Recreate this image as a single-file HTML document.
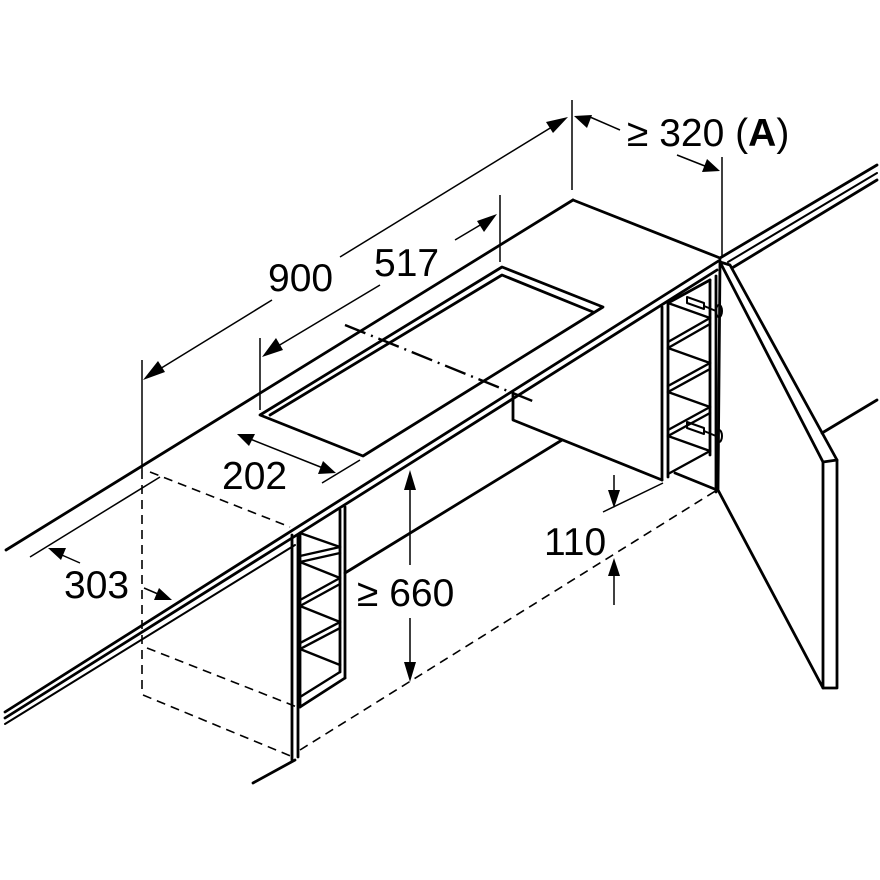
<!DOCTYPE html>
<html><head><meta charset="utf-8"><style>
html,body{margin:0;padding:0;background:#fff}
svg{display:block}
text{font-family:"Liberation Sans",Arial,sans-serif;fill:#000}
</style></head><body>
<svg width="880" height="880" viewBox="0 0 880 880" xmlns="http://www.w3.org/2000/svg">
<g stroke="#000" fill="none" stroke-width="2.8" stroke-linecap="round" stroke-linejoin="round">
<line x1="6" y1="550" x2="573" y2="200"/>
<line x1="573" y1="200" x2="720" y2="258"/>
<line x1="720" y1="260" x2="5" y2="712"/>
<line x1="717" y1="270" x2="292" y2="538"/>
<line x1="292" y1="538" x2="5" y2="718"/>
<line x1="295" y1="545" x2="5" y2="724" stroke-width="2"/>
<polygon points="260,415 502,267 603,307 363,456"/>
<polyline points="270,415 502,275 593,312"/>
<line x1="345" y1="573" x2="562" y2="440"/>
<polyline points="513,393 513,420 662,480"/>
<line x1="662" y1="307" x2="662" y2="480"/>
<line x1="668" y1="303" x2="668" y2="477"/>
<line x1="710" y1="280" x2="710" y2="455"/>
<line x1="716" y1="276" x2="716" y2="492"/>
<polyline points="668,303 710,280"/>
<line x1="675" y1="473" x2="717" y2="490"/>
<g stroke-width="2.4">
<line x1="668" y1="303" x2="710" y2="318"/>
<line x1="668" y1="342" x2="710" y2="318"/>
<line x1="668" y1="348" x2="710" y2="324"/>
<line x1="668" y1="348" x2="710" y2="363"/>
<line x1="668" y1="386" x2="710" y2="363"/>
<line x1="668" y1="392" x2="710" y2="369"/>
<line x1="668" y1="392" x2="710" y2="407"/>
<line x1="668" y1="430" x2="710" y2="407"/>
<line x1="668" y1="436" x2="710" y2="413"/>
<line x1="668" y1="436" x2="710" y2="451"/>
<line x1="668" y1="474" x2="710" y2="451"/>
</g>
<g stroke-width="2">
<polygon points="687,297 704,303 704,309 687,303"/>
<line x1="704" y1="306" x2="716" y2="311"/>
<ellipse cx="719" cy="311" rx="3" ry="6"/>
<polygon points="687,422 704,428 704,434 687,428"/>
<line x1="704" y1="431" x2="716" y2="436"/>
<ellipse cx="719" cy="436" rx="3" ry="6"/>
</g>
<polygon points="720,262 823,462 823,688 718,490"/>
<polyline points="720,262 730,265 837,460 837,688 823,688"/>
<line x1="823" y1="462" x2="837" y2="460"/>
<line x1="720" y1="258" x2="877" y2="165"/>
<line x1="728" y1="262" x2="877" y2="173" stroke-width="2"/>
<line x1="732" y1="268" x2="877" y2="180"/>
<line x1="822" y1="433" x2="877" y2="400"/>
<line x1="292" y1="535" x2="292" y2="760"/>
<line x1="298" y1="535" x2="298" y2="757"/>
<line x1="300" y1="533" x2="300" y2="707"/>
<line x1="340" y1="510" x2="340" y2="672"/>
<line x1="345" y1="507" x2="345" y2="678"/>
<line x1="300" y1="707" x2="345" y2="678"/>
<g stroke-width="2.4">
<line x1="300" y1="533" x2="340" y2="547"/>
<line x1="300" y1="556" x2="340" y2="547"/>
<line x1="300" y1="562" x2="340" y2="553"/>
<line x1="300" y1="562" x2="340" y2="578"/>
<line x1="300" y1="600" x2="340" y2="578"/>
<line x1="300" y1="606" x2="340" y2="584"/>
<line x1="300" y1="606" x2="340" y2="622"/>
<line x1="300" y1="643" x2="340" y2="622"/>
<line x1="300" y1="649" x2="340" y2="628"/>
<line x1="300" y1="649" x2="340" y2="665"/>
<line x1="300" y1="697" x2="340" y2="672"/>
</g>
<line x1="253" y1="783" x2="295" y2="760"/>
</g>
<g stroke="#000" fill="none" stroke-width="1.6" stroke-dasharray="9,6">
<line x1="142" y1="470" x2="142" y2="695"/>
<line x1="150" y1="472" x2="290" y2="527"/>
<line x1="147" y1="648" x2="297" y2="707"/>
<line x1="143" y1="695" x2="293" y2="757"/>
<line x1="300" y1="750" x2="717" y2="490"/>
</g>
<line x1="345" y1="325" x2="535" y2="402" stroke="#000" stroke-width="2.4" stroke-dasharray="22,6,2,6"/>
<g stroke="#000" fill="none" stroke-width="1.5">
<line x1="142" y1="360" x2="142" y2="470"/>
<line x1="150" y1="375" x2="272" y2="300"/>
<line x1="340" y1="257" x2="560" y2="122"/>
<line x1="572" y1="100" x2="572" y2="190"/>
<line x1="260" y1="338" x2="260" y2="410"/>
<line x1="268" y1="352" x2="380" y2="285"/>
<line x1="455" y1="240" x2="492" y2="218"/>
<line x1="500" y1="195" x2="500" y2="262"/>
<line x1="245" y1="437" x2="328" y2="470"/>
<line x1="322" y1="483" x2="360" y2="460"/>
<line x1="30" y1="557" x2="160" y2="477"/>
<line x1="55" y1="552" x2="80" y2="563"/>
<line x1="144" y1="588" x2="165" y2="597"/>
<line x1="410" y1="475" x2="410" y2="565"/>
<line x1="410" y1="618" x2="410" y2="678"/>
<line x1="614" y1="475" x2="614" y2="505"/>
<line x1="614" y1="562" x2="614" y2="605"/>
<line x1="603" y1="512" x2="663" y2="483"/>
<line x1="590" y1="117" x2="620" y2="130"/>
<line x1="677" y1="155" x2="715" y2="170"/>
<line x1="722" y1="157" x2="722" y2="258"/>
</g>
<g fill="#000" stroke="none">
<polygon points="143,380 158,361 165,372"/>
<polygon points="568,117 553,133 546,122"/>
<polygon points="262,357 276,338 283,350"/>
<polygon points="497,214 484,232 477,221"/>
<polygon points="237,434 255,434 249,446"/>
<polygon points="336,473 318,474 323,461"/>
<polygon points="48,548 66,548 61,560"/>
<polygon points="172,600 154,600 159,588"/>
<polygon points="410,470 404,490 416,490"/>
<polygon points="410,682 404,662 416,662"/>
<polygon points="614,508 608,490 620,490"/>
<polygon points="614,558 608,576 620,576"/>
<polygon points="574,116 592,115 587,128"/>
<polygon points="720,171 702,172 707,159"/>
</g>
<g font-size="39">
<text x="268" y="291">900</text>
<text x="374" y="276">517</text>
<text x="222" y="489">202</text>
<text x="64" y="598">303</text>
<text x="357" y="606">≥ 660</text>
<text x="544" y="555">110</text>
<text x="627" y="146">≥ 320 (<tspan font-weight="bold">A</tspan>)</text>
</g>
</svg>
</body></html>
